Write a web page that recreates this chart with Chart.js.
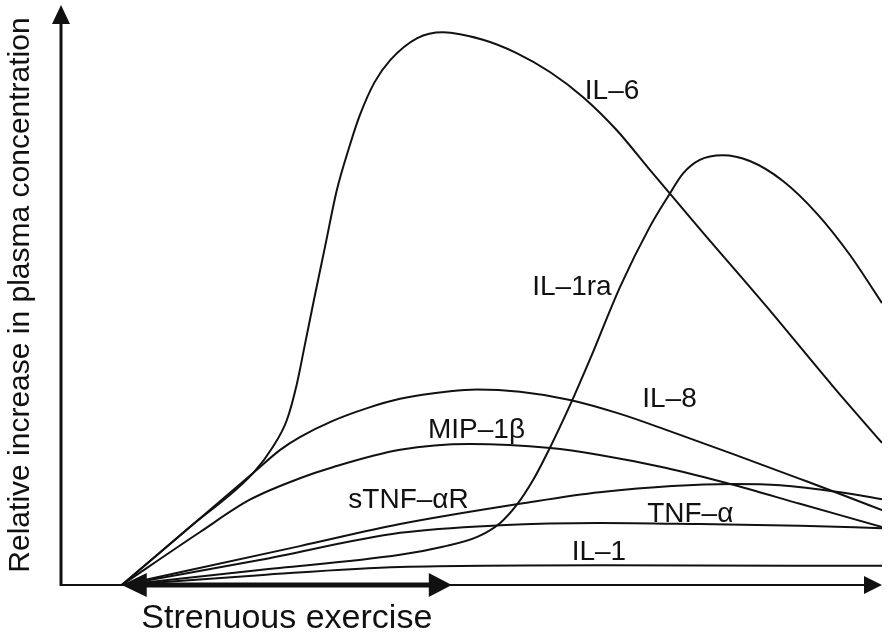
<!DOCTYPE html>
<html>
<head>
<meta charset="utf-8">
<script src="https://cdn.jsdelivr.net/npm/chart.js@4.4.1/dist/chart.umd.min.js"></script>
<style>
  html, body { margin: 0; padding: 0; background: #fff; }
  canvas { display: block; }
</style>
</head>
<body>
<canvas id="chart" width="890" height="634"></canvas>
<script>
// Arbitrary units: time 0-100 on x, relative increase 0-100 on y
const exerciseStart = 7.4;
const exerciseEnd = 47.6;

const il6X = [7.4, 15.7, 23.4, 25.8, 27.5, 28.7, 29.7, 30.8, 32.2, 33.6, 35.2, 36.4, 38.2, 40.1, 43.4, 46.5, 51.4, 55.5, 59.6, 63.6, 67.7, 71.7, 77.8, 86.0, 94.0, 100];
const il6Y = [0, 10.0, 19.3, 23.8, 28.4, 34.5, 41.4, 49.1, 58.6, 68.1, 75.9, 81.0, 86.7, 90.5, 94.3, 95.3, 94.0, 91.7, 88.4, 84.1, 78.4, 71.6, 61.4, 47.9, 34.3, 24.5];

const il1raX = [7.4, 24.2, 41.3, 46.5, 50.7, 53.5, 55.5, 57.5, 59.6, 62.0, 64.4, 68.1, 71.7, 73.9, 75.8, 77.8, 80.6, 83.9, 87.9, 92.1, 96.1, 100];
const il1raY = [0, 2.6, 5.2, 6.6, 8.3, 10.7, 13.8, 18.1, 23.8, 31.0, 38.8, 51.4, 61.7, 66.9, 71.0, 73.3, 74.1, 73.1, 69.7, 64.0, 56.9, 48.6];

const il8X = [7.4, 15.7, 23.4, 26.7, 29.1, 33.1, 37.3, 41.3, 47.4, 50.7, 55.9, 62.0, 68.1, 73.8, 81.8, 90.0, 94.9, 100];
const il8Y = [0, 10.0, 19.3, 23.3, 25.5, 28.3, 30.5, 32.1, 33.4, 33.7, 33.3, 31.9, 29.5, 26.7, 22.6, 18.3, 15.7, 12.9];

const mipX = [7.4, 16.9, 23.0, 29.1, 33.1, 41.3, 49.8, 59.6, 65.6, 73.6, 81.5, 90.0, 100];
const mipY = [0, 9.1, 14.7, 18.4, 20.3, 23.3, 24.3, 23.6, 22.4, 20.2, 17.4, 14.0, 10.0];

const stnfrX = [7.4, 29.1, 41.3, 55.9, 65.6, 81.8, 87.6, 94.9, 100];
const stnfrY = [0, 6.7, 10.5, 14.0, 16.0, 17.4, 17.2, 16.0, 14.8];

const tnfX = [7.4, 24.2, 41.3, 53.5, 65.6, 77.8, 90.0, 100];
const tnfY = [0, 4.3, 9.0, 10.3, 10.7, 10.5, 10.2, 9.8];

const il1X = [7.4, 24.2, 41.3, 65.6, 100];
const il1Y = [0, 1.7, 3.1, 3.4, 3.3];

const seriesNames = ['IL–6', 'IL–1ra', 'IL–8', 'MIP–1β', 'sTNF–αR', 'TNF–α', 'IL–1'];

const FONT = '"Liberation Sans", Arial, Helvetica, sans-serif';
const INK = '#111';

function toPoints(xs, ys) {
    return xs.map((x, i) => ({ x: x, y: ys[i] }));
}

const seriesData = [
    toPoints(il6X, il6Y),
    toPoints(il1raX, il1raY),
    toPoints(il8X, il8Y),
    toPoints(mipX, mipY),
    toPoints(stnfrX, stnfrY),
    toPoints(tnfX, tnfY),
    toPoints(il1X, il1Y)
];

// where each curve name sits (left edge, baseline), in data units
const labelAnchors = [
    [63.8, 83.8], [57.4, 50.0], [70.8, 30.7], [44.7, 25.3],
    [35.0, 13.3], [71.4, 10.9], [62.2, 4.3]
];

function triangle(ctx, tip, a, b) {
    ctx.beginPath();
    ctx.moveTo(tip[0], tip[1]);
    ctx.lineTo(a[0], a[1]);
    ctx.lineTo(b[0], b[1]);
    ctx.closePath();
    ctx.fill();
}

const schematicAxes = {
    id: 'schematicAxes',
    beforeDatasetsDraw(chart) {
        const { ctx, chartArea, scales } = chart;
        const x0 = scales.x.getPixelForValue(0);
        const y0 = scales.y.getPixelForValue(0);
        ctx.save();
        ctx.strokeStyle = INK;
        ctx.fillStyle = INK;

        // y axis with arrow
        ctx.lineWidth = 3;
        ctx.beginPath();
        ctx.moveTo(x0, y0 + 1);
        ctx.lineTo(x0, chartArea.top + 16);
        ctx.stroke();
        triangle(ctx, [x0, chartArea.top], [x0 - 9, chartArea.top + 19], [x0 + 9, chartArea.top + 19]);

        // x axis with arrow
        ctx.lineWidth = 2;
        ctx.beginPath();
        ctx.moveTo(x0, y0);
        ctx.lineTo(chartArea.right - 14, y0);
        ctx.stroke();
        triangle(ctx, [chartArea.right, y0], [chartArea.right - 18, y0 - 9], [chartArea.right - 18, y0 + 9]);
        ctx.restore();
    },
    afterDatasetsDraw(chart) {
        const { ctx, chartArea, scales } = chart;
        const y0 = scales.y.getPixelForValue(0);
        const xs = scales.x.getPixelForValue(exerciseStart);
        const xe = scales.x.getPixelForValue(exerciseEnd);
        ctx.save();
        ctx.strokeStyle = INK;
        ctx.fillStyle = INK;

        // exercise period double arrow
        ctx.lineWidth = 5;
        ctx.beginPath();
        ctx.moveTo(xs + 20, y0);
        ctx.lineTo(xe - 18, y0);
        ctx.stroke();
        triangle(ctx, [xs, y0], [xs + 25, y0 - 12], [xs + 25, y0 + 12]);
        triangle(ctx, [xe, y0], [xe - 23, y0 - 12], [xe - 23, y0 + 12]);

        ctx.textBaseline = 'alphabetic';

        ctx.font = '34px ' + FONT;
        ctx.textAlign = 'center';
        ctx.fillText('Strenuous exercise', (xs + xe) / 2, y0 + 43);

        // y axis title
        ctx.save();
        ctx.translate(29, (chartArea.top + y0) / 2);
        ctx.rotate(-Math.PI / 2);
        ctx.font = '30px ' + FONT;
        ctx.fillText('Relative increase in plasma concentration', 0, 0);
        ctx.restore();

        // curve names
        ctx.font = '28px ' + FONT;
        ctx.textAlign = 'left';
        seriesNames.forEach((name, i) => {
            const [lx, ly] = labelAnchors[i];
            ctx.fillText(name, scales.x.getPixelForValue(lx), scales.y.getPixelForValue(ly));
        });
        ctx.restore();
    }
};

new Chart(document.getElementById('chart'), {
    type: 'line',
    data: {
        datasets: seriesData.map((pts, i) => ({
            label: seriesNames[i],
            data: pts,
            borderColor: INK,
            borderWidth: 2,
            pointRadius: 0,
            fill: false,
            cubicInterpolationMode: 'monotone'
        }))
    },
    options: {
        responsive: false,
        animation: false,
        devicePixelRatio: 1,
        layout: { padding: { left: 61, right: 8, top: 5, bottom: 49 } },
        scales: {
            x: { type: 'linear', min: 0, max: 100, display: false },
            y: { type: 'linear', min: 0, max: 100, display: false }
        },
        plugins: {
            legend: { display: false },
            tooltip: { enabled: false }
        },
        events: []
    },
    plugins: [schematicAxes]
});
</script>
</body>
</html>
